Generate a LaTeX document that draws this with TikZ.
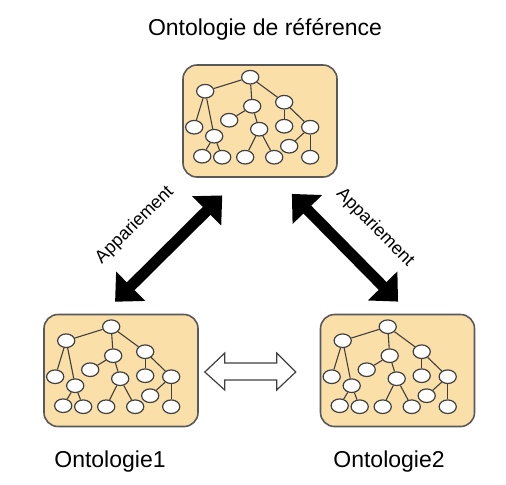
\documentclass[tikz,border=0pt]{standalone}
\usepackage{fontspec}
\setmainfont{Liberation Sans}
\usetikzlibrary{shapes.geometric, arrows.meta, positioning, calc}
\definecolor{boxfill}{RGB}{251,223,168}

\begin{document}
\begin{tikzpicture}[
        x=0.5pt, y=-0.5pt,
        ontobox/.style={rectangle, draw=black!65, line width=0.8pt, fill=boxfill, rounded corners=7pt, minimum width=77pt, minimum height=56pt, inner sep=0pt},
        leaf/.style={ellipse, draw=black!75, fill=white, line width=0.6pt, minimum width=8.6pt, minimum height=6.8pt, inner sep=0pt},
        branch/.style={draw=black!75, line width=0.55pt},
        titlestyle/.style={font=\fontsize{11.5}{13}\selectfont},
        appar/.style={line width=5.5pt, {Triangle[length=11pt,width=20pt]}-{Triangle[length=11pt,width=20pt]}},
        labelstyle/.style={font=\fontsize{9}{10}\selectfont, sloped},
        hollow/.style={draw=black!75, line width=0.6pt, fill=white},
        ontotree/.pic={
            \foreach \n/\px/\py in {r/68/13, a/23/27, b/70/42, c/102/38, d/12/63, e/32/72, f/47/56, g/77/65,
                    h/102/62, i/128/63, j/20/92, k/40/93, l/63/93, m/92/93, n/107/82, o/128/93}
                \node[leaf] (-\n) at (\px,\py) {};
            \foreach \u/\v in {r/a, r/b, r/c, a/d, a/e, e/j, e/k, b/f, b/g, g/l, g/m, c/h, c/i, i/n, i/o}
                \draw[branch] (-\u) -- (-\v);
        }
    ]
    \useasboundingbox (0,0) rectangle (506,484);

    % the three ontologies
    \node (ref) [ontobox] at (260,121) {};
    \node (ont1) [ontobox] at (121,370.5) {};
    \node (ont2) [ontobox] at (397.5,370.5) {};
    \pic (reftree) at (ref.north west) {ontotree};
    \pic (tree1) at (ont1.north west) {ontotree};
    \pic (tree2) at (ont2.north west) {ontotree};

    \node (reftitle) [titlestyle] at (265,29) {Ontologie de référence};
    \node (title1) [titlestyle] at (110,462) {Ontologie1};
    \node (title2) [titlestyle] at (389,462) {Ontologie2};

    % appariement
    \draw [appar, shorten <=8.5pt, shorten >=12.5pt] ($(ont1.north)+(-18,0)$) -- node[labelstyle, above=10pt, pos=0.44] {Appariement} ($(ref.south)+(-20,0)$);
    \draw [appar, shorten <=11.3pt, shorten >=8.5pt] ($(ref.south)+(16,0)$) -- node[labelstyle, above=7.5pt, pos=0.55] {Appariement} ($(ont2.north)+(12.5,0)$);

    % lien entre ontologie1 et ontologie2
    \coordinate (linkl) at ($(ont1.east)+(6,1.5)$);
    \coordinate (linkr) at ($(ont2.west)+(-24,1.5)$);
    \draw [hollow] (linkl) -- ([shift={(20,-19)}]linkl) -- ([shift={(20,-9)}]linkl) -- ([shift={(-19,-9)}]linkr)
        -- ([shift={(-19,-19)}]linkr) -- (linkr) -- ([shift={(-19,18)}]linkr) -- ([shift={(-19,8)}]linkr)
        -- ([shift={(20,8)}]linkl) -- ([shift={(20,18)}]linkl) -- cycle;
\end{tikzpicture}
\end{document}
